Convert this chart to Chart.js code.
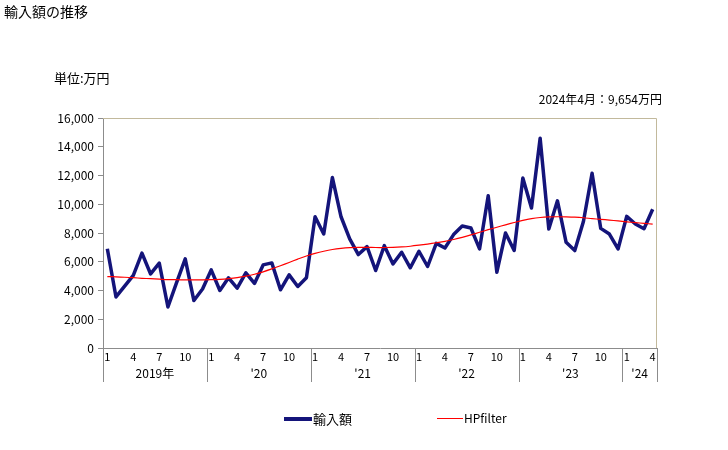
<!DOCTYPE html>
<html>
<head>
<meta charset="utf-8">
<script src="https://cdn.jsdelivr.net/npm/chart.js@4.4.1/dist/chart.umd.min.js"></script>
<style>
  html, body { margin: 0; padding: 0; background: #fff; }
  #wrap { position: relative; width: 728px; height: 450px; font-family: "Noto Sans CJK JP", sans-serif; color: #000; }
  #c { position: absolute; left: 0; top: 0; }
  .t { position: absolute; white-space: nowrap; line-height: 1; }
  .leg { position: absolute; height: 0; }
</style>
</head>
<body>
<div id="wrap">
  <canvas id="c" width="728" height="450"></canvas>
  <div class="t" style="left:4px; top:4px; font-size:14px;">輸入額の推移</div>
  <div class="t" style="left:54px; top:71px; font-size:13px;">単位:万円</div>
  <div class="t" style="right:66px; top:93px; font-size:12px;">2024年4月：9,654万円</div>
  <div class="leg" style="left:284px; top:417px; width:28px; border-top:4px solid #14147a;"></div>
  <div class="t" style="left:313px; top:412px; font-size:13px;">輸入額</div>
  <div class="leg" style="left:437px; top:418px; width:26px; border-top:1.5px solid #ff0000;"></div>
  <div class="t" style="left:464px; top:412px; font-size:12px;">HPfilter</div>
</div>
<script>
// ---- data ----
const years = [2019, 2020, 2021, 2022, 2023, 2024];
const yearLabels = ['2019年', "'20", "'21", "'22", "'23", "'24"];
const monthLabels = [1,2,3,4,5,6,7,8,9,10,11,12, 1,2,3,4,5,6,7,8,9,10,11,12, 1,2,3,4,5,6,7,8,9,10,11,12,
                     1,2,3,4,5,6,7,8,9,10,11,12, 1,2,3,4,5,6,7,8,9,10,11,12, 1,2,3,4];
const shownMonths = [1, 4, 7, 10];

const imports2019 = [6900, 3550, 4300, 5050, 6600, 5150, 5900, 2850, 4550, 6200, 3300, 4100];
const imports2020 = [5430, 4000, 4880, 4160, 5230, 4490, 5780, 5920, 4050, 5090, 4280, 4880];
const imports2021 = [9130, 7930, 11860, 9130, 7590, 6500, 7050, 5390, 7120, 5850, 6660, 5580];
const imports2022 = [6730, 5670, 7280, 6960, 7890, 8490, 8350, 6890, 10590, 5270, 8000, 6780];
const imports2023 = [11820, 9740, 14590, 8280, 10240, 7350, 6780, 8800, 12160, 8320, 7930, 6890];
const imports2024 = [9160, 8630, 8300, 9654];

const hp2019 = [4970, 4950, 4920, 4890, 4850, 4820, 4790, 4760, 4750, 4740, 4740, 4740];
const hp2020 = [4750, 4780, 4830, 4900, 5000, 5130, 5300, 5500, 5720, 5950, 6180, 6400];
const hp2021 = [6580, 6730, 6850, 6930, 6980, 7000, 7000, 6990, 6990, 7000, 7030, 7080];
const hp2022 = [7150, 7230, 7320, 7420, 7550, 7700, 7870, 8050, 8230, 8400, 8570, 8730];
const hp2023 = [8880, 9000, 9080, 9120, 9130, 9120, 9100, 9060, 9000, 8950, 8900, 8840];
const hp2024 = [8780, 8720, 8670, 8620];

const yTicks = [0, 2000, 4000, 6000, 8000, 10000, 12000, 14000, 16000];

const importsAll = [].concat(imports2019, imports2020, imports2021, imports2022, imports2023, imports2024);
const hpAll = [].concat(hp2019, hp2020, hp2021, hp2022, hp2023, hp2024);
const categories = monthLabels.map((m, i) => String(i));

const AXIS = '#8c8c8c';
const FRAME = '#c2b99c';

const decor = {
  id: 'decor',
  afterDraw(chart) {
    const ctx = chart.ctx;
    const a = chart.chartArea;
    const xs = chart.scales.x;
    ctx.save();
    // top & right frame
    ctx.strokeStyle = FRAME;
    ctx.lineWidth = 1;
    ctx.beginPath();
    ctx.moveTo(a.left, a.top + 0.5);
    ctx.lineTo(a.right - 0.5, a.top + 0.5);
    ctx.lineTo(a.right - 0.5, a.bottom);
    ctx.stroke();
    // year separators & labels
    const starts = [];
    monthLabels.forEach((m, i) => { if (m === 1) starts.push(i); });
    const bounds = starts.map(i => i === 0 ? a.left : (xs.getPixelForValue(i - 1) + xs.getPixelForValue(i)) / 2);
    bounds.push(a.right);
    ctx.strokeStyle = AXIS;
    ctx.beginPath();
    bounds.forEach(b => {
      const x = Math.round(b) + 0.5;
      ctx.moveTo(x, a.bottom);
      ctx.lineTo(x, a.bottom + 34);
    });
    ctx.stroke();
    ctx.fillStyle = '#000';
    ctx.font = '12px "Noto Sans CJK JP"';
    ctx.textAlign = 'center';
    ctx.textBaseline = 'middle';
    for (let k = 0; k < yearLabels.length; k++) {
      ctx.fillText(yearLabels[k], (bounds[k] + bounds[k + 1]) / 2, a.bottom + 25);
    }
    ctx.restore();
  }
};

new Chart(document.getElementById('c'), {
  type: 'line',
  data: {
    labels: categories,
    datasets: [
      { label: '輸入額', data: importsAll, borderColor: '#14147a', borderWidth: 3.5, pointRadius: 0, tension: 0, borderJoinStyle: 'round', order: 2 },
      { label: 'HPfilter', data: hpAll, borderColor: '#ff0000', borderWidth: 1.2, pointRadius: 0, tension: 0.3, order: 1 }
    ]
  },
  options: {
    responsive: false,
    animation: false,
    devicePixelRatio: 1,
    layout: { padding: { left: 43, top: 118, right: 71, bottom: 62 } },
    plugins: { legend: { display: false }, tooltip: { enabled: false } },
    scales: {
      x: {
        type: 'category',
        offset: true,
        afterFit: s => { s.height = 40; },
        grid: { display: false, drawTicks: false },
        border: { display: true, color: AXIS, width: 1 },
        ticks: {
          autoSkip: false, maxRotation: 0, minRotation: 0, padding: 2,
          color: '#000', font: { family: 'Noto Sans CJK JP', size: 11 },
          callback: (v, i) => shownMonths.includes(monthLabels[i]) ? String(monthLabels[i]) : ''
        }
      },
      y: {
        min: 0, max: 16000,
        afterFit: s => { s.width = 60; },
        afterBuildTicks: s => { s.ticks = yTicks.map(v => ({ value: v })); },
        grid: { drawOnChartArea: false, drawTicks: true, tickLength: 5, color: AXIS },
        border: { display: true, color: AXIS, width: 1 },
        ticks: {
          padding: 4, color: '#000', font: { family: 'Noto Sans CJK JP', size: 12 },
          callback: v => v.toLocaleString('en-US')
        }
      }
    }
  },
  plugins: [decor]
});
</script>
</body>
</html>
